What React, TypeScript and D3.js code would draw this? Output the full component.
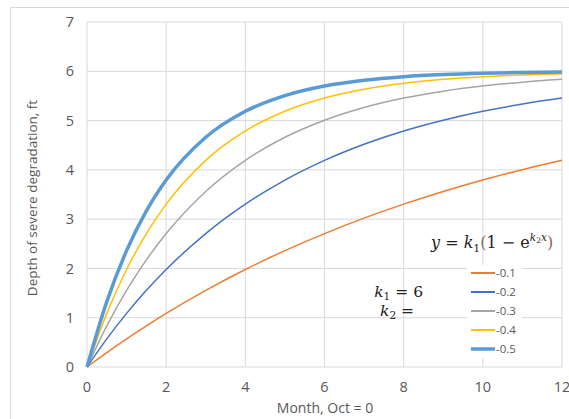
import React from "react";
import * as d3 from "d3";

const months = [0, 0.5, 1, 1.5, 2, 3, 4, 5, 6, 7, 8, 9, 10, 11, 12];
const k2Labels = ["-0.1", "-0.2", "-0.3", "-0.4", "-0.5"];
const s01 = [0, 0.293, 0.571, 0.836, 1.088, 1.555, 1.978, 2.361, 2.707, 3.021, 3.304, 3.561, 3.793, 4.003, 4.193];
const s02 = [0, 0.571, 1.088, 1.555, 1.978, 2.707, 3.304, 3.793, 4.193, 4.52, 4.789, 5.008, 5.188, 5.335, 5.456];
const s03 = [0, 0.836, 1.555, 2.174, 2.707, 3.561, 4.193, 4.661, 5.008, 5.265, 5.456, 5.597, 5.701, 5.779, 5.836];
const s04 = [0, 1.088, 1.978, 2.707, 3.304, 4.193, 4.789, 5.188, 5.456, 5.635, 5.755, 5.836, 5.89, 5.926, 5.951];
const s05 = [0, 1.327, 2.361, 3.166, 3.793, 4.661, 5.188, 5.507, 5.701, 5.819, 5.89, 5.933, 5.96, 5.976, 5.985];
const xTicks = [0, 2, 4, 6, 8, 10, 12];
const yTicks = [0, 1, 2, 3, 4, 5, 6, 7];

const seriesList = [s01, s02, s03, s04, s05];
const colors = ["#ED7D31", "#4472C4", "#A5A5A5", "#FFC000", "#5B9BD5"];
const widths = [1.5, 1.5, 1.5, 1.5, 3.5];

export default function App() {
  const W = 569, H = 419;
  const x = d3.scaleLinear().domain([0, 12]).range([87, 562]);
  const y = d3.scaleLinear().domain([0, 7]).range([367, 22]);
  const line = d3
    .line<number>()
    .x((_, i) => x(months[i]))
    .y((d) => y(d))
    .curve(d3.curveMonotoneX);
  const tickColor = "#595959";
  const font = "'Open Sans', sans-serif";
  const mathFont = "'DejaVu Serif', serif";
  const legX = 471, legY0 = 273, legDy = 19;
  return (
    <svg width={W} height={H} style={{ position: "absolute", left: 0, top: 0, background: "#fff" }}>
      <rect x={0} y={0} width={W} height={H} fill="#fff" />
      <rect x={10.5} y={7.5} width={700} height={700} fill="none" stroke="#D9D9D9" />
      {yTicks.map((t) => (
        <line key={"gy" + t} x1={x(0)} x2={x(12)} y1={y(t)} y2={y(t)} stroke="#D9D9D9" strokeWidth={1} />
      ))}
      {xTicks.map((t) => (
        <line key={"gx" + t} x1={x(t)} x2={x(t)} y1={y(0)} y2={y(7)} stroke="#D9D9D9" strokeWidth={1} />
      ))}
      {yTicks.map((t) => (
        <text key={"ty" + t} x={74} y={y(t)} dy="0.35em" textAnchor="end" fontSize={14.5} fill={tickColor} fontFamily={font}>
          {t}
        </text>
      ))}
      {xTicks.map((t) => (
        <text key={"tx" + t} x={x(t)} y={392} textAnchor="middle" fontSize={14.5} fill={tickColor} fontFamily={font}>
          {t}
        </text>
      ))}
      <text x={325} y={413} textAnchor="middle" fontSize={14} fill={tickColor} fontFamily={font}>
        Month, Oct = 0
      </text>
      <text
        transform="translate(37,198) rotate(-90)"
        textAnchor="middle"
        fontSize={13.5}
        fill={tickColor}
        fontFamily={font}
      >
        Depth of severe degradation, ft
      </text>
      {seriesList.map((s, i) => (
        <path key={"s" + i} d={line(s) || ""} fill="none" stroke={colors[i]} strokeWidth={widths[i]} />
      ))}
      {/* equation */}
      <text x={431} y={248} fontSize={16} fill="#222" fontFamily={mathFont}>
        <tspan fontStyle="italic">y</tspan>
        <tspan> = </tspan>
        <tspan fontStyle="italic">k</tspan>
        <tspan fontSize={11} dy={4}>1</tspan>
        <tspan dy={-4} fill="#8B6A5A">(</tspan>
        <tspan>1 − e</tspan>
        <tspan fontSize={10.5} dy={-7} fontStyle="italic">k</tspan>
        <tspan fontSize={7.5} dy={2}>2</tspan>
        <tspan fontSize={10.5} dy={-2} fontStyle="italic">x</tspan>
        <tspan dy={7} fill="#8B6A5A">)</tspan>
      </text>
      <text x={423} y={297} textAnchor="end" fontSize={15.5} fill="#222" fontFamily={mathFont}>
        <tspan fontStyle="italic">k</tspan>
        <tspan fontSize={10.5} dy={3}>1</tspan>
        <tspan dy={-3}> = 6</tspan>
      </text>
      <text x={414} y={316} textAnchor="end" fontSize={15.5} fill="#222" fontFamily={mathFont}>
        <tspan fontStyle="italic">k</tspan>
        <tspan fontSize={10.5} dy={3}>2</tspan>
        <tspan dy={-3}> =</tspan>
      </text>
      {/* legend */}
      <rect x={467} y={265} width={55} height={93} fill="#fff" />
      {k2Labels.map((lab, i) => (
        <g key={"l" + i}>
          <line
            x1={legX}
            x2={legX + 24}
            y1={legY0 + i * legDy}
            y2={legY0 + i * legDy}
            stroke={colors[i]}
            strokeWidth={widths[i] === 3.5 ? 3.5 : 2}
          />
          <text x={legX + 25} y={legY0 + i * legDy} dy="0.35em" fontSize={11.5} fill={tickColor} fontFamily={font}>
            {lab}
          </text>
        </g>
      ))}
    </svg>
  );
}
